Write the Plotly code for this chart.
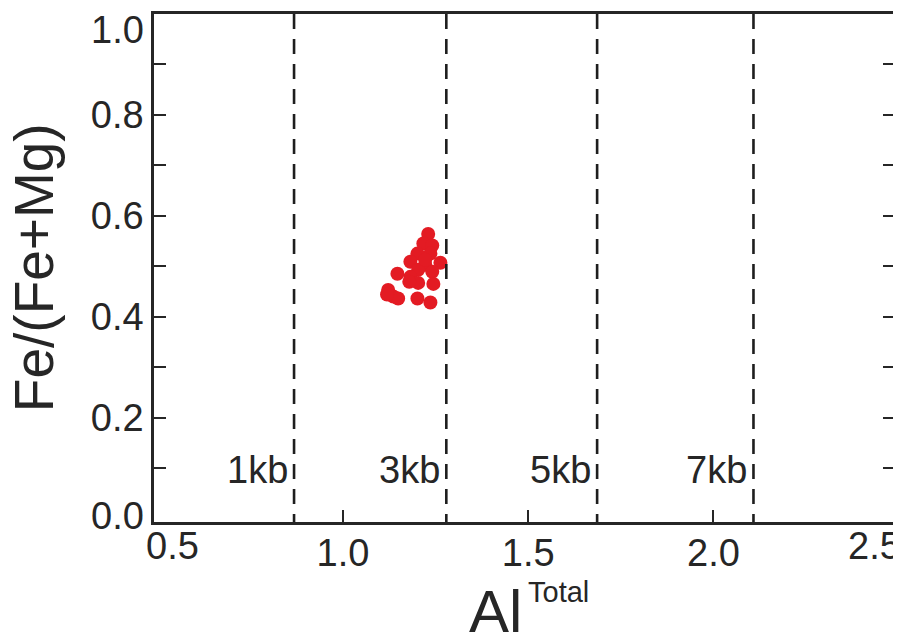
import plotly.graph_objects as go

# ---- data ----
al_total = [1.230, 1.217, 1.241, 1.201, 1.236, 1.182, 1.263, 1.222, 1.203, 1.241,
            1.147, 1.182, 1.203, 1.244, 1.179, 1.122, 1.136, 1.149, 1.201, 1.236,
            1.222, 1.119]
fe_ratio = [0.564, 0.545, 0.541, 0.525, 0.525, 0.509, 0.507, 0.503, 0.493, 0.489,
            0.485, 0.479, 0.467, 0.465, 0.469, 0.453, 0.440, 0.436, 0.436, 0.428,
            0.513, 0.444]

pressure_labels = ["1kb", "3kb", "5kb", "7kb"]
pressure_al = [0.868, 1.279, 1.686, 2.108]
pressure_label_y = 0.1

x_tickvals = [0.5, 1.0, 1.5, 2.0, 2.5]
x_ticktext = ["0.5", "1.0", "1.5", "2.0", "2.5"]
y_tickvals = [0.0, 0.1, 0.2, 0.3, 0.4, 0.5, 0.6, 0.7, 0.8, 0.9, 1.0]
y_ticktext = ["0.0", "", "0.2", "", "0.4", "", "0.6", "", "0.8", "", "1.0"]

X_RANGE = [0.49, 2.49]
Y_RANGE = [-0.007, 1.0]

# ---- layout helpers ----
# The page has the browser's default 8px body margin, so the figure is made
# 8px smaller and every position below is given in window pixels.
OFF = 8
W, H = 901 - OFF, 633 - OFF
PL, PR, PT, PB = 154, 895, 14, 521.7          # plot box in window pixels
PW, PH = PR - PL, PB - PT

def px(xp):
    return (xp - PL) / PW

def py(yp):
    return (PB - yp) / PH

FONT = "Liberation Sans, Arial, sans-serif"
INK = "#262626"
TICK_SIZE = 38

fig = go.Figure()
fig.add_trace(go.Scatter(
    x=al_total, y=fe_ratio, mode="markers",
    marker=dict(size=14, color="#E31B23", line=dict(width=0)),
    showlegend=False, cliponaxis=False,
))

for xv in pressure_al:
    fig.add_shape(type="line", xref="x", yref="paper", x0=xv, x1=xv, y0=1, y1=0,
                  line=dict(color="#1e1e1e", width=2.6, dash="15px,10px"))

for lab, xv in zip(pressure_labels, pressure_al):
    fig.add_annotation(x=xv, y=pressure_label_y, xref="x", yref="y", text=lab,
                       showarrow=False, xanchor="right", yanchor="middle",
                       xshift=-4, yshift=-2,
                       font=dict(family=FONT, size=TICK_SIZE, color=INK))

# axis tick marks only where the original draws them (inside the ranges)
x_axis_vals = [v for v in x_tickvals if X_RANGE[0] + 0.02 < v < X_RANGE[1]]
x_axis_text = [t for v, t in zip(x_tickvals, x_ticktext) if v in x_axis_vals]
y_axis_vals = [v for v in y_tickvals if 0.0 < v < 1.0]
y_axis_text = [t for v, t in zip(y_tickvals, y_ticktext) if v in y_axis_vals]

# edge tick labels, nudged inward like the original
fig.add_annotation(x=px(172), y=py(546), xref="paper", yref="paper", text=x_ticktext[0],
                   showarrow=False, xanchor="center", yanchor="middle",
                   font=dict(family=FONT, size=TICK_SIZE, color=INK))
fig.add_annotation(x=px(874), y=py(546), xref="paper", yref="paper", text=x_ticktext[-1],
                   showarrow=False, xanchor="center", yanchor="middle",
                   font=dict(family=FONT, size=TICK_SIZE, color=INK))
fig.add_annotation(x=px(146), y=py(30), xref="paper", yref="paper", text=y_ticktext[-1],
                   showarrow=False, xanchor="right", yanchor="middle",
                   font=dict(family=FONT, size=TICK_SIZE, color=INK))
fig.add_annotation(x=px(146), y=py(516), xref="paper", yref="paper", text=y_ticktext[0],
                   showarrow=False, xanchor="right", yanchor="middle",
                   font=dict(family=FONT, size=TICK_SIZE, color=INK))

# axis titles
fig.add_annotation(x=px(34), y=py(268), xref="paper", yref="paper", text="Fe/(Fe+Mg)",
                   showarrow=False, textangle=-90, xanchor="center", yanchor="middle",
                   font=dict(family=FONT, size=55, color=INK))
fig.add_annotation(x=px(524), y=py(576), xref="paper", yref="paper", text="Al",
                   showarrow=False, xanchor="right", yanchor="top",
                   font=dict(family=FONT, size=60, color=INK))
fig.add_annotation(x=px(526), y=py(574), xref="paper", yref="paper", text="Total",
                   showarrow=False, xanchor="left", yanchor="top",
                   font=dict(family=FONT, size=29, color=INK))

fig.update_xaxes(range=X_RANGE, tickvals=x_axis_vals, ticktext=x_axis_text,
                 ticks="inside", ticklen=12, tickwidth=2, tickcolor=INK,
                 showline=True, linewidth=2.5, linecolor=INK, mirror=True,
                 showgrid=False, zeroline=False, automargin=False,
                 ticklabelstandoff=-4,
                 tickfont=dict(family=FONT, size=TICK_SIZE, color=INK))
fig.update_yaxes(range=Y_RANGE, tickvals=y_axis_vals, ticktext=y_axis_text,
                 ticks="inside", ticklen=12, tickwidth=2, tickcolor=INK,
                 showline=True, linewidth=2.5, linecolor=INK, mirror="ticks",
                 showgrid=False, zeroline=False, automargin=False,
                 tickfont=dict(family=FONT, size=TICK_SIZE, color=INK))

fig.update_layout(width=W, height=H, paper_bgcolor="white", plot_bgcolor="white",
                  margin=dict(l=PL - OFF, r=901 - PR, t=PT - OFF, b=633 - PB,
                              pad=0, autoexpand=False),
                  showlegend=False)

fig.write_html("out.html")
